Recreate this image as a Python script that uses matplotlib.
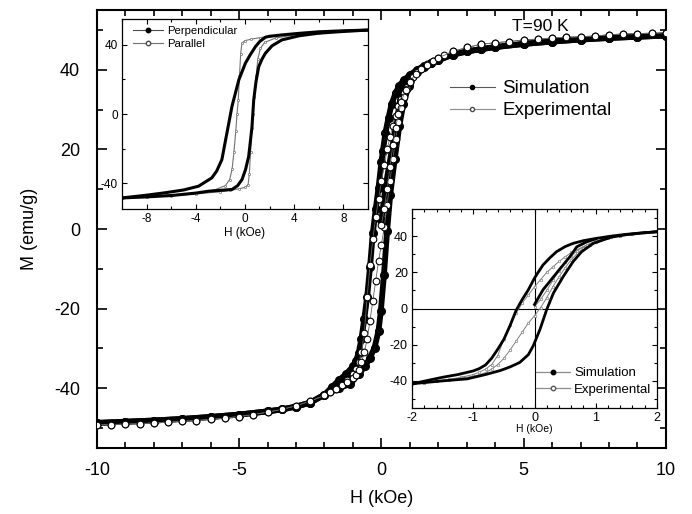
import matplotlib
matplotlib.use('Agg')
import matplotlib.pyplot as plt
from matplotlib.lines import Line2D
from matplotlib.ticker import MultipleLocator

plt.rcParams['font.family'] = ['Liberation Sans', 'DejaVu Sans']
plt.rcParams['axes.unicode_minus'] = False

# ---- simulation loop (main plot + lower right inset) ----
sim_desc_h = [10, 9, 8, 7, 6, 5, 4, 3.5, 3, 2.5, 2.0, 1.75, 1.5, 1.25, 1.0, 0.8, 0.63, 0.5,
              0.36, 0.25, 0.14, 0.05, 0.0, -0.1, -0.2, -0.3, -0.4, -0.5, -0.6, -0.7, -0.8,
              -0.9, -1.0, -1.25, -1.5, -1.75, -2.0, -2.5, -3, -3.5, -4, -5, -6, -7, -8, -9, -10]
sim_desc_m = [48.6, 48.3, 48.0, 47.6, 47.1, 46.5, 45.7, 45.2, 44.6, 43.8, 42.4, 41.8, 41.0,
              40.0, 38.7, 37.5, 36.0, 34.2, 31.4, 28.0, 24.1, 19.5, 16.8, 10.4, 5.0, -1.0,
              -9.5, -17.0, -22.5, -27.5, -31.2, -33.2, -34.5, -36.5, -38.0, -39.8, -41.6,
              -43.6, -44.6, -45.3, -45.8, -46.6, -47.2, -47.7, -48.1, -48.4, -48.7]
sim_asc_h = [-10, -9, -8, -7, -6, -5, -4, -3.5, -3, -2.5, -2.0, -1.5, -1.1, -0.8, -0.56, -0.4,
             -0.24, -0.1, -0.02, 0.09, 0.2, 0.31, 0.47, 0.63, 0.77, 0.96, 1.25, 1.5, 1.75,
             2.0, 2.5, 3, 3.5, 4, 5, 6, 7, 8, 9, 10]
sim_asc_m = [-48.7, -48.4, -48.1, -47.7, -47.2, -46.6, -45.8, -45.3, -44.6, -43.6, -41.6,
             -40.0, -38.9, -36.5, -34.3, -32.3, -29.8, -25.5, -20.6, -11.5, -0.5, 8.6, 17.7,
             25.9, 31.4, 36.0, 39.4, 40.8, 41.7, 42.4, 43.8, 44.6, 45.2, 45.7, 46.5, 47.1,
             47.6, 48.0, 48.3, 48.6]
sim_init_h = [0.0, 0.14, 0.36, 0.58, 0.69, 0.85, 1.0]
sim_init_m = [2.2, 10.4, 19.6, 28.7, 34.1, 36.8, 38.5]

# ---- experimental loop ----
exp_desc_h = [10, 9.5, 9, 8.5, 8, 7.5, 7, 6.5, 6, 5.5, 5, 4.5, 4, 3.5, 3, 2.5, 2.2, 2.0, 1.8,
              1.6, 1.4, 1.25, 1.1, 1.0, 0.9, 0.8, 0.7, 0.6, 0.5, 0.4, 0.3, 0.2, 0.1, 0.0,
              -0.1, -0.2, -0.3, -0.4, -0.5, -0.6, -0.7, -0.8, -0.9, -1.0, -1.2, -1.4, -1.6,
              -1.8, -2.0, -2.5, -3.0, -3.5, -4.0, -4.5, -5.0, -5.5, -6.0, -6.5, -7.0, -7.5,
              -8.0, -8.5, -9.0, -9.5, -10]
exp_desc_m = [49.3, 49.2, 49.1, 49.0, 48.8, 48.5, 48.3, 48.2, 48.0, 47.7, 47.5, 47.1, 46.8,
              46.4, 45.6, 44.6, 43.6, 43.0, 42.2, 41.4, 40.3, 39.4, 38.2, 37.2, 35.8, 34.2,
              32.6, 31.0, 28.5, 26.0, 23.0, 20.0, 16.0, 12.0, 7.5, 3.0, -2.5, -9.0, -17.0,
              -26.0, -31.0, -33.5, -35.2, -36.5, -38.0, -39.2, -40.2, -41.0, -41.8, -43.2,
              -44.4, -45.3, -46.0, -46.6, -47.1, -47.5, -47.8, -48.1, -48.3, -48.5, -48.7,
              -48.9, -49.0, -49.1, -49.2]
exp_asc_h = [-10, -9.5, -9.0, -8.5, -8.0, -7.5, -7.0, -6.5, -6.0, -5.5, -5.0, -4.5, -4.0,
             -3.5, -3.0, -2.5, -2.0, -1.8, -1.6, -1.4, -1.2, -1.0, -0.9, -0.8, -0.7, -0.6,
             -0.5, -0.4, -0.3, -0.2, -0.1, 0.0, 0.1, 0.2, 0.3, 0.4, 0.5, 0.6, 0.7, 0.8, 0.9,
             1.0, 1.2, 1.4, 1.6, 1.8, 2.0, 2.5, 3.0, 3.5, 4.0, 4.5, 5.0, 5.5, 6.0, 6.5, 7.0,
             7.5, 8.0, 8.5, 9.0, 9.5, 10]
exp_asc_m = [-49.2, -49.1, -49.0, -48.9, -48.7, -48.5, -48.3, -48.1, -47.8, -47.5, -47.1,
             -46.6, -46.0, -45.3, -44.4, -43.2, -41.8, -41.0, -40.1, -39.3, -38.4, -37.5,
             -36.6, -35.4, -33.5, -31.0, -27.5, -23.0, -18.0, -13.0, -8.0, -4.0, 0.5, 6.0,
             12.0, 17.5, 22.5, 27.0, 30.5, 33.2, 35.3, 37.0, 39.0, 40.3, 41.3, 42.2, 43.0,
             44.6, 45.6, 46.4, 46.8, 47.1, 47.5, 47.7, 48.0, 48.2, 48.3, 48.5, 48.8, 49.0,
             49.1, 49.2, 49.3]
exp_init_h = [0.0, 0.1, 0.2, 0.3, 0.4, 0.5, 0.6, 0.7, 0.85, 1.0]
exp_init_m = [1.0, 5.0, 10.0, 15.5, 21.0, 25.5, 29.0, 32.0, 35.0, 37.0]

# ---- upper left inset: perpendicular / parallel ----
perp_desc_h = [10, 8, 6, 4.4, 3, 2, 1.67, 1.2, 0.85, 0.4, 0.03, -0.5, -1.06, -1.47, -1.88,
               -2.3, -2.7, -3.78, -5, -6.5, -8, -10]
perp_desc_m = [48.6, 48.2, 47.6, 46.7, 45.8, 45.0, 44.5, 42.0, 39.0, 34.0, 29.4, 19.8, 4.4,
               -11.0, -26.4, -33.0, -37.0, -41.8, -44.0, -45.6, -47.0, -48.6]
perp_asc_h = [-10, -8, -6, -4, -2.96, -2, -1.06, -0.6, -0.24, 0.05, 0.3, 0.45, 0.57, 0.71,
              0.9, 1.12, 1.4, 1.66, 2.2, 3.0, 4.4, 6, 8, 10]
perp_asc_m = [-48.6, -48.0, -47.2, -45.8, -44.7, -44.2, -43.7, -41.5, -37.9, -32.0, -24.5,
              -15.0, -7.2, 8.3, 19.0, 27.5, 32.0, 35.2, 39.5, 42.9, 45.3, 46.8, 47.8, 48.6]
par_desc_h = [10, 8, 6, 4, 2, 1.2, 0.5, 0.0, -0.25, -0.35, -0.45, -0.55, -0.65, -0.75, -0.9,
              -1.05, -1.25, -1.6, -2.5, -4, -6, -8, -10]
par_desc_m = [48.4, 48.0, 47.4, 46.3, 45.0, 44.2, 43.3, 42.5, 41.0, 35.0, 22.0, 8.0, 0.0,
              -10.0, -22.0, -32.0, -38.0, -41.5, -44.0, -45.8, -47.0, -47.8, -48.4]
par_asc_h = [-10, -8, -6, -4, -2, -1.2, -0.5, 0.0, 0.25, 0.35, 0.45, 0.55, 0.65, 0.75, 0.9,
             1.05, 1.25, 1.6, 2.5, 4, 6, 8, 10]
par_asc_m = [-48.4, -48.0, -47.4, -46.3, -45.0, -44.2, -43.3, -42.5, -41.0, -35.0, -22.0,
             -8.0, 0.0, 10.0, 22.0, 32.0, 38.0, 41.5, 44.0, 45.8, 47.0, 47.8, 48.4]

fig = plt.figure(figsize=(6.92, 5.14), dpi=100)

# ================= main axes =================
ax = fig.add_axes([0.140, 0.1284, 0.8223, 0.852])
for h, m in [(sim_desc_h, sim_desc_m), (sim_asc_h, sim_asc_m), (sim_init_h, sim_init_m)]:
    ax.plot(h, m, color='black', lw=4.2, marker='o', ms=5.5, mfc='black', mec='black',
            solid_capstyle='round', solid_joinstyle='round', zorder=2)
for h, m in [(exp_desc_h, exp_desc_m), (exp_asc_h, exp_asc_m), (exp_init_h, exp_init_m)]:
    ax.plot(h, m, color='0.4', lw=0.6, marker='o', ms=4.8, mfc='white', mec='black',
            mew=0.8, zorder=3)

ax.set_xlim(-10, 10)
ax.set_ylim(-55, 55)
ax.xaxis.set_major_locator(MultipleLocator(5))
ax.xaxis.set_minor_locator(MultipleLocator(1))
ax.yaxis.set_major_locator(MultipleLocator(20))
ax.yaxis.set_minor_locator(MultipleLocator(10))
ax.tick_params(which='both', direction='in', top=True, right=True, width=1.2)
ax.tick_params(which='major', length=7, labelsize=13)
ax.tick_params(axis='x', which='major', pad=10)
ax.tick_params(axis='y', which='major', pad=12)
ax.tick_params(which='minor', length=4)
for s in ax.spines.values():
    s.set_linewidth(1.5)
ax.set_xlabel('H (kOe)', fontsize=13, labelpad=8)
ax.set_ylabel('M (emu/g)', fontsize=13, labelpad=12)
ax.text(5.6, 50.8, 'T=90 K', fontsize=12.5, ha='center', va='center')

main_handles = [
    Line2D([], [], color='0.35', lw=0.8, marker='o', ms=3, mfc='black', mec='black'),
    Line2D([], [], color='0.55', lw=0.8, marker='o', ms=3, mfc='white', mec='0.3'),
]
ax.legend(main_handles, ['Simulation', 'Experimental'], loc='upper left',
          bbox_to_anchor=(0.620, 0.840), frameon=False, fontsize=13.5, borderpad=0,
          borderaxespad=0, handlelength=2.4, handletextpad=0.4, labelspacing=0.25)

# ================= upper left inset =================
ax1 = fig.add_axes([0.1763, 0.5934, 0.3555, 0.3696])
ax1.plot(perp_desc_h, perp_desc_m, color='black', lw=2.2, zorder=3)
ax1.plot(perp_asc_h, perp_asc_m, color='black', lw=2.2, zorder=3)
ax1.plot(par_desc_h, par_desc_m, color='0.45', lw=0.8, marker='o', ms=1.6, mfc='white',
         mec='0.45', mew=0.5, zorder=2)
ax1.plot(par_asc_h, par_asc_m, color='0.45', lw=0.8, marker='o', ms=1.6, mfc='white',
         mec='0.45', mew=0.5, zorder=2)
ax1.set_xlim(-10, 10)
ax1.set_ylim(-55, 55)
ax1.xaxis.set_major_locator(MultipleLocator(4))
ax1.xaxis.set_minor_locator(MultipleLocator(2))
ax1.yaxis.set_major_locator(MultipleLocator(40))
ax1.yaxis.set_minor_locator(MultipleLocator(20))
ax1.tick_params(which='both', direction='in', top=True, right=True, width=0.8)
ax1.tick_params(which='major', length=3.5, labelsize=8.5, pad=3)
ax1.tick_params(which='minor', length=2)
for s in ax1.spines.values():
    s.set_linewidth(0.9)
ax1.set_xlabel('H (kOe)', fontsize=8.5, labelpad=1)
in1_handles = [
    Line2D([], [], color='0.3', lw=0.8, marker='o', ms=3.2, mfc='black', mec='black'),
    Line2D([], [], color='0.45', lw=0.8, marker='o', ms=3.2, mfc='white', mec='0.3'),
]
ax1.legend(in1_handles, ['Perpendicular', 'Parallel'], loc='upper left',
           bbox_to_anchor=(0.045, 0.965), frameon=False, fontsize=8.2, borderpad=0,
           borderaxespad=0, handlelength=2.6, handletextpad=0.4, labelspacing=0.3)

# ================= lower right inset =================
ax2 = fig.add_axes([0.5954, 0.2062, 0.354, 0.3872])
ax2.axhline(0, color='black', lw=0.8, zorder=1)
ax2.axvline(0, color='black', lw=0.8, zorder=1)
for h, m in [(exp_desc_h, exp_desc_m), (exp_asc_h, exp_asc_m), (exp_init_h, exp_init_m)]:
    ax2.plot(h, m, color='0.5', lw=0.7, marker='o', ms=1.8, mfc='white', mec='0.5',
             mew=0.5, zorder=2)
for h, m in [(sim_desc_h, sim_desc_m), (sim_asc_h, sim_asc_m), (sim_init_h, sim_init_m)]:
    ax2.plot(h, m, color='black', lw=2.0, zorder=3)
ax2.set_xlim(-2, 2)
ax2.set_ylim(-55, 55)
ax2.xaxis.set_major_locator(MultipleLocator(1))
ax2.xaxis.set_minor_locator(MultipleLocator(0.2))
ax2.yaxis.set_major_locator(MultipleLocator(20))
ax2.yaxis.set_minor_locator(MultipleLocator(10))
ax2.tick_params(which='both', direction='in', top=True, right=True, width=0.8)
ax2.tick_params(which='major', length=3.5, labelsize=9, pad=3)
ax2.tick_params(which='minor', length=2)
for s in ax2.spines.values():
    s.set_linewidth(0.9)
ax2.set_xlabel('H (kOe)', fontsize=7.5, labelpad=0)
in2_handles = [
    Line2D([], [], color='0.55', lw=0.9, marker='o', ms=3.2, mfc='black', mec='black'),
    Line2D([], [], color='0.55', lw=0.9, marker='o', ms=3.2, mfc='white', mec='0.35'),
]
ax2.legend(in2_handles, ['Simulation', 'Experimental'], loc='upper left',
           bbox_to_anchor=(0.505, 0.205), frameon=False, fontsize=9.5, borderpad=0,
           borderaxespad=0, handlelength=2.6, handletextpad=0.3, labelspacing=0.3)

fig.savefig('out.png', dpi=100)
